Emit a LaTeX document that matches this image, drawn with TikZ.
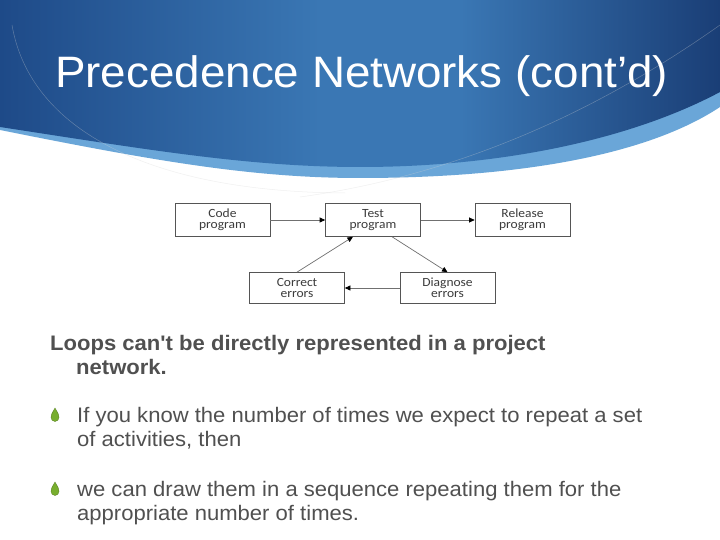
\documentclass[tikz,border=0pt]{standalone}
\usepackage{fontspec}
\setmainfont{Liberation Sans}[Ligatures=TeXOff]
\newfontfamily\titlefont{Liberation Sans}[FakeStretch=1.04]
\newfontfamily\bodyfont{Liberation Sans}[Ligatures=TeXOff,FakeStretch=1.05]
\newfontfamily\boxfont{Carlito}[FakeStretch=1.08]
\usetikzlibrary{arrows.meta,calc}
\definecolor{hdarkL}{HTML}{1E4A88}
\definecolor{hmid}{HTML}{3A77B4}
\definecolor{hdarkR}{HTML}{1A3E76}
\definecolor{hband}{HTML}{6AA6D8}
\definecolor{bodytext}{HTML}{505050}
\definecolor{boxtext}{HTML}{3C3C3C}
\definecolor{boxline}{HTML}{555555}
\definecolor{arrline}{HTML}{707070}
\definecolor{bulgreen}{HTML}{78AE2E}
\definecolor{arcgrey}{HTML}{D4D4D4}
\tikzset{
  stepbox/.style={draw=boxline, line width=0.7pt, minimum width=95pt, minimum height=33pt,
    inner sep=0pt, align=center, text=boxtext,
    font=\boxfont\fontsize{12.5}{11}\selectfont},
  flow/.style={draw=arrline, line width=0.7pt, -{Triangle[length=5.5pt,width=5pt,color=black]}},
  bodyline/.style={anchor=base west, inner sep=0pt, text=bodytext, font=\bodyfont\fontsize{21}{24}\selectfont},
  drop/.pic={
    \fill[bulgreen, draw=bulgreen!70!black, line width=0.3pt]
      (0,-9.5) .. controls (1,-6.5) and (4,-4.5) .. (4,0)
      .. controls (4,2.2) and (2.2,4) .. (0,4)
      .. controls (-2.2,4) and (-4,2.2) .. (-4,0)
      .. controls (-4,-4.5) and (-1,-6.5) .. (0,-9.5) -- cycle;
  }
}
\begin{document}
\begin{tikzpicture}[x=1pt,y=-1pt]
\useasboundingbox (0,0) rectangle (720,540);
\fill[white] (0,0) rectangle (720,540);
% header band (light)
\fill[hband] (0,0) -- (720,0) -- (720,107)
  .. controls (640,160) and (500,178) .. (360,178)
  .. controls (250,178) and (150,160) .. (0,130) -- cycle;
% header dark, shaded in three parts
\begin{scope}
\clip (0,0) -- (720,0) -- (720,92)
  .. controls (630,140) and (500,167) .. (360,167)
  .. controls (250,167) and (150,150) .. (0,127) -- cycle;
\shade[left color=hdarkL, right color=hmid] (0,0) rectangle (320,180);
\fill[hmid] (319.5,0) rectangle (460.5,180);
\shade[left color=hmid, right color=hdarkR] (460,0) rectangle (720,180);
\end{scope}
% faint arcs
\draw[arcgrey, opacity=0.35, line width=0.5pt] (12,25) .. controls (30,130) and (150,192) .. (345,193);
\draw[arcgrey, opacity=0.35, line width=0.5pt] (720,25) .. controls (600,110) and (460,175) .. (300,197);
% title
\node[anchor=base west, inner sep=0pt, text=white, font=\titlefont\fontsize{44}{52}\selectfont] (title) at (55,88) {Precedence Networks (cont’d)};
% diagram
\node[stepbox] (code) at (222.5,220) {Code\\program};
\node[stepbox] (test) at (373,220) {Test\\program};
\node[stepbox] (release) at (522.5,220) {Release\\program};
\node[stepbox, minimum height=31pt] (correct) at (297,288) {Correct\\errors};
\node[stepbox, minimum height=31pt] (diagnose) at (447.5,288) {Diagnose\\errors};
\draw[flow] (code.east) -- (test.west);
\draw[flow] (test.east) -- (release.west);
\draw[flow] ($(test.south)!0.4!(test.south east)$) -- (diagnose.north);
\draw[flow] (correct.north) -- ($(test.south)!0.42!(test.south west)$);
\draw[flow] (diagnose.west) -- (correct.east);
% body text
\node[bodyline, font=\bodyfont\bfseries\fontsize{21}{24}\selectfont] (l1) at (50,350) {Loops can't be directly represented in a project};
\node[bodyline, font=\bodyfont\bfseries\fontsize{21}{24}\selectfont] (l2) at (76,374) {network.};
\pic at (55,417.5) {drop};
\node[bodyline] (b1a) at (77,422) {If you know the number of times we expect to repeat a set};
\node[bodyline] (b1b) at (77,446) {of activities, then};
\pic at (55,491.5) {drop};
\node[bodyline] (b2a) at (77,496) {we can draw them in a sequence repeating them for the};
\node[bodyline] (b2b) at (77,520) {appropriate number of times.};
\end{tikzpicture}
\end{document}
